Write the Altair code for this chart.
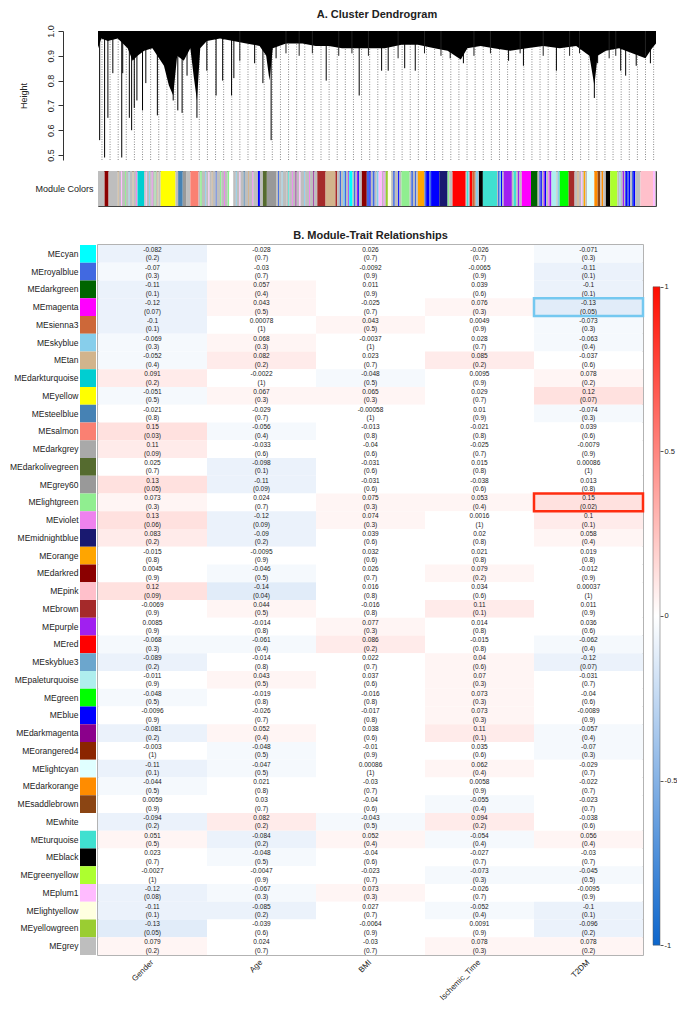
import altair as alt
import pandas as pd
import numpy as np

FONT = "Liberation Sans"

# ---------------- heatmap data ----------------
modules = ["MEcyan", "MEroyalblue", "MEdarkgreen", "MEmagenta", "MEsienna3", "MEskyblue", "MEtan",
           "MEdarkturquoise", "MEyellow", "MEsteelblue", "MEsalmon", "MEdarkgrey", "MEdarkolivegreen",
           "MEgrey60", "MElightgreen", "MEviolet", "MEmidnightblue", "MEorange", "MEdarkred", "MEpink",
           "MEbrown", "MEpurple", "MEred", "MEskyblue3", "MEpaleturquoise", "MEgreen", "MEblue",
           "MEdarkmagenta", "MEorangered4", "MElightcyan", "MEdarkorange", "MEsaddlebrown", "MEwhite",
           "MEturquoise", "MEblack", "MEgreenyellow", "MEplum1", "MElightyellow", "MEyellowgreen", "MEgrey"]
traits = ["Gender", "Age", "BMI", "Ischemic_Time", "T2DM"]

r_gender = [-0.082, -0.07, -0.11, -0.12, -0.1, -0.069, -0.052, 0.091, -0.051, -0.021, 0.15, 0.11, 0.025,
            0.13, 0.073, 0.13, 0.083, -0.015, 0.0045, 0.12, -0.0069, 0.0085, -0.068, -0.089, -0.011, -0.048,
            -0.0096, -0.081, -0.003, -0.11, -0.044, 0.0059, -0.094, 0.051, 0.023, -0.0027, -0.12, -0.11, -0.13, 0.079]
p_gender = [0.2, 0.3, 0.1, 0.07, 0.1, 0.3, 0.4, 0.2, 0.5, 0.8, 0.03, 0.09, 0.7, 0.05, 0.3, 0.06, 0.2, 0.8, 0.9,
            0.09, 0.9, 0.9, 0.3, 0.2, 0.9, 0.5, 0.9, 0.2, 1, 0.1, 0.5, 0.9, 0.2, 0.5, 0.7, 1, 0.08, 0.1, 0.05, 0.2]
r_age = [-0.028, -0.03, 0.057, 0.043, 0.00078, 0.068, 0.082, -0.0022, 0.067, -0.029, -0.056, -0.033, -0.098,
         -0.11, 0.024, -0.12, -0.09, -0.0095, -0.046, -0.14, 0.044, -0.014, -0.061, -0.014, 0.043, -0.019,
         -0.026, 0.052, -0.048, -0.047, 0.021, 0.03, 0.082, -0.084, -0.048, -0.0047, -0.067, -0.085, -0.039, 0.024]
p_age = [0.7, 0.7, 0.4, 0.5, 1, 0.3, 0.2, 1, 0.3, 0.7, 0.4, 0.6, 0.1, 0.09, 0.7, 0.09, 0.2, 0.9, 0.5, 0.04,
         0.5, 0.8, 0.4, 0.8, 0.5, 0.8, 0.7, 0.4, 0.5, 0.5, 0.8, 0.7, 0.2, 0.2, 0.5, 0.9, 0.3, 0.2, 0.6, 0.7]
r_bmi = [0.026, -0.0092, 0.011, -0.025, 0.043, -0.0037, 0.023, -0.048, 0.065, -0.00058, -0.013, -0.04, -0.031,
         -0.031, 0.075, 0.074, 0.039, 0.032, 0.026, 0.016, -0.016, 0.077, 0.086, 0.022, 0.037, -0.016, -0.017,
         0.038, -0.01, 0.00086, -0.03, -0.04, -0.043, 0.052, -0.04, -0.023, 0.073, 0.027, -0.0064, -0.03]
p_bmi = [0.7, 0.9, 0.9, 0.7, 0.5, 1, 0.7, 0.5, 0.3, 1, 0.8, 0.6, 0.6, 0.6, 0.3, 0.3, 0.6, 0.6, 0.7, 0.8, 0.8,
         0.3, 0.2, 0.7, 0.6, 0.8, 0.8, 0.6, 0.9, 1, 0.7, 0.6, 0.5, 0.4, 0.6, 0.7, 0.3, 0.7, 0.9, 0.7]
r_isch = [-0.026, -0.0065, 0.039, 0.076, 0.0049, 0.028, 0.085, 0.0095, 0.029, 0.01, -0.021, -0.025, 0.015,
          -0.038, 0.053, 0.0016, 0.02, 0.021, 0.079, 0.034, 0.11, 0.014, -0.015, 0.04, 0.07, 0.073, 0.073, 0.11,
          0.035, 0.062, 0.0058, -0.055, 0.094, -0.054, -0.027, -0.073, -0.026, -0.052, 0.0091, 0.078]
p_isch = [0.7, 0.9, 0.6, 0.3, 0.9, 0.7, 0.2, 0.9, 0.7, 0.9, 0.8, 0.7, 0.8, 0.6, 0.4, 1, 0.8, 0.8, 0.2, 0.6, 0.1,
          0.8, 0.8, 0.6, 0.3, 0.3, 0.3, 0.1, 0.6, 0.4, 0.9, 0.4, 0.2, 0.4, 0.7, 0.3, 0.7, 0.4, 0.9, 0.3]
r_t2dm = [-0.071, -0.11, -0.1, -0.13, -0.073, -0.063, -0.037, 0.078, 0.12, -0.074, 0.039, -0.0079, 0.00086,
          0.013, 0.15, 0.1, 0.058, 0.019, -0.012, 0.00037, 0.011, 0.036, -0.062, -0.12, -0.031, -0.04, -0.0089,
          -0.057, -0.07, -0.029, -0.022, -0.023, -0.038, 0.056, -0.03, -0.045, -0.0095, -0.1, -0.096, 0.078]
p_t2dm = [0.3, 0.1, 0.1, 0.05, 0.3, 0.4, 0.6, 0.2, 0.07, 0.3, 0.6, 0.9, 1, 0.8, 0.02, 0.1, 0.4, 0.8, 0.9, 1,
          0.9, 0.6, 0.4, 0.07, 0.7, 0.6, 0.9, 0.4, 0.3, 0.7, 0.7, 0.7, 0.6, 0.4, 0.7, 0.5, 0.9, 0.1, 0.2, 0.2]

highlight_modules = ["MEmagenta", "MElightgreen"]
highlight_traits = ["T2DM", "T2DM"]
highlight_colors = ["#74c8f0", "#ff2d10"]

# ---------------- dendrogram data (leaf-order units) ----------------
canopy_pos = [0, 10, 30, 60, 90, 105, 120, 140, 165, 180, 200, 215, 228, 240, 260, 280, 290, 300, 310, 330,
              370, 410, 450, 490, 510, 520, 530, 570, 620, 660, 700, 740, 780, 820, 870, 920, 970, 1020, 1060,
              1100, 1120, 1160, 1200, 1250, 1300, 1350, 1400, 1450, 1490, 1505, 1515, 1540, 1580, 1620, 1660,
              1680, 1692]
canopy_low = [0.93, 0.97, 0.96, 0.97, 0.93, 0.88, 0.9, 0.92, 0.93, 0.9, 0.86, 0.78, 0.74, 0.9, 0.88, 0.93, 0.82,
              0.72, 0.93, 0.96, 0.97, 0.96, 0.95, 0.94, 0.9, 0.8, 0.93, 0.95, 0.95, 0.94, 0.94, 0.93, 0.93, 0.93,
              0.93, 0.945, 0.945, 0.93, 0.92, 0.885, 0.93, 0.94, 0.93, 0.92, 0.93, 0.94, 0.93, 0.94, 0.9, 0.78,
              0.9, 0.92, 0.93, 0.91, 0.89, 0.93, 0.95]
drop_pos = [5, 20, 30, 45, 72, 75, 95, 102, 110, 118, 135, 145, 180, 195, 228, 242, 255, 270, 300, 330, 358,
            378, 405, 412, 475, 500, 525, 540, 692, 792, 860, 880, 930, 962, 1068, 1108, 1245, 1290, 1390, 1505,
            1515, 1585, 1600, 1632, 1675]
drop_low = [0.56, 0.49, 0.65, 0.83, 0.49, 0.83, 0.65, 0.60, 0.69, 0.72, 0.68, 0.79, 0.66, 0.88, 0.72, 0.68, 0.67,
            0.82, 0.65, 0.84, 0.74, 0.80, 0.74, 0.81, 0.87, 0.79, 0.56, 0.89, 0.80, 0.74, 0.84, 0.84, 0.85, 0.84,
            0.89, 0.87, 0.88, 0.86, 0.84, 0.73, 0.87, 0.84, 0.82, 0.86, 0.87]
minor_pos = [430, 570, 610, 650, 730, 770, 820, 910, 990, 1040, 1140, 1190, 1280, 1350, 1430, 1460, 1550, 1570, 1660]
minor_low = [0.88, 0.91, 0.90, 0.91, 0.90, 0.91, 0.90, 0.89, 0.91, 0.90, 0.90, 0.91, 0.91, 0.90, 0.90, 0.91, 0.89,
             0.90, 0.90]

# ---------------- module colour bar (leaf-order units) ----------------
bar_colors = [
    "grey", "darkred", "grey", "tan", "grey", "plum1", "grey", "lightgreen", "grey", "skyblue", "grey", "tan", "grey",
    "violet", "grey", "darkturquoise", "grey", "plum1", "grey", "skyblue", "grey", "violet", "grey", "lightgreen",
    "grey", "tan", "grey", "yellow", "grey", "steelblue", "grey60", "grey", "salmon", "grey", "lightgreen", "grey",
    "skyblue", "grey", "plum1", "grey", "tan", "grey", "royalblue", "grey", "lightgreen", "grey", "violet", "grey",
    "lightgreen", "white", "grey", "skyblue", "grey", "plum1", "grey", "steelblue", "grey", "tan", "grey", "violet",
    "grey", "blue", "grey", "darkolivegreen", "grey60", "grey", "royalblue", "grey", "skyblue", "grey",
    "grey", "turquoise", "grey", "violet", "grey", "darkmagenta", "grey", "plum1", "grey", "skyblue", "grey", "violet",
    "grey", "darkmagenta", "grey", "brown", "tan", "brown", "grey", "royalblue", "grey", "skyblue", "royalblue", "grey",
    "purple", "cyan", "grey", "royalblue", "grey", "purple", "blue", "grey", "darkred", "royalblue", "blue", "grey",
    "royalblue", "grey", "skyblue", "plum1", "grey", "violet", "grey", "yellowgreen", "lightyellow", "grey",
    "royalblue", "grey", "blue", "grey", "lightgreen", "grey", "royalblue", "grey", "royalblue", "grey", "orange",
    "royalblue", "blue", "royalblue", "blue", "midnightblue", "lightgreen", "grey", "red", "grey", "turquoise",
    "skyblue", "red", "sienna3",
    "sienna3", "skyblue", "grey", "black", "turquoise", "grey", "royalblue", "skyblue", "blue", "grey", "purple",
    "grey", "turquoise", "grey", "purple", "grey", "magenta", "darkgreen", "grey", "royalblue", "blue", "grey",
    "purple", "blue", "grey", "violet", "purple", "paleturquoise", "grey", "skyblue", "green", "brown", "grey", "tan",
    "grey", "plum1", "grey", "orange", "grey", "lightcyan", "darkorange", "saddlebrown", "grey", "darkorange", "grey",
    "black", "greenyellow", "grey", "skyblue", "grey", "purple", "grey", "blue", "royalblue", "blue", "grey",
    "royalblue", "blue", "grey", "pink", "plum1", "grey"]
bar_widths = [
    20, 12, 28, 3, 7, 3, 9, 3, 8, 3, 9, 3, 7,
    3, 2, 20, 5, 3, 7, 3, 5, 3, 6, 3,
    5, 3, 7, 45, 8, 14, 10, 13, 25, 5, 5, 10,
    3, 7, 3, 7, 3, 9, 3, 10, 4, 8, 3, 8,
    5, 12, 8, 3, 8, 3, 10, 3, 10, 3, 10, 3,
    14, 6, 9, 12, 28, 6, 3, 8, 3, 11,
    6, 3, 8, 3, 8, 3, 8, 4, 11, 3, 12, 3,
    10, 3, 9, 25, 30, 5, 8, 4, 6, 5, 4, 7,
    3, 10, 4, 5, 4, 4, 3, 8, 15, 8, 4, 6,
    6, 6, 6, 10, 4, 4, 4, 6, 10, 6,
    5, 10, 4, 6, 25, 5, 5, 6, 4, 5, 20,
    5, 10, 5, 25, 25, 5, 10, 40, 3, 5,
    4, 8, 6,
    4, 8, 2, 12, 43, 3, 5, 4, 4, 4, 25,
    5, 8, 5, 5, 7, 28, 20, 5, 4, 4, 5,
    4, 4, 6, 4, 6, 15, 4, 6, 27, 18, 8, 5,
    7, 4, 4, 5, 5, 22, 10, 8, 4, 5, 8,
    13, 22, 6, 4, 6, 4, 4, 5, 5, 5, 5,
    4, 6, 16, 38, 6, 3]

# ---------------- styles ----------------
R_COLORS = {
    "grey": "#BEBEBE", "darkred": "#8B0000", "tan": "#D2B48C", "plum1": "#FFBBFF", "lightgreen": "#90EE90",
    "darkturquoise": "#00CED1", "yellow": "#FFFF00", "steelblue": "#4682B4", "salmon": "#FA8072", "white": "#FFFFFF",
    "blue": "#0000FF", "darkolivegreen": "#556B2F", "grey60": "#999999", "brown": "#A52A2A", "cyan": "#00FFFF",
    "royalblue": "#4169E1", "purple": "#A020F0", "skyblue": "#87CEEB", "violet": "#EE82EE",
    "yellowgreen": "#9ACD32", "lightyellow": "#FFFFE0", "orange": "#FFA500", "midnightblue": "#191970",
    "red": "#FF0000", "turquoise": "#40E0D0", "sienna3": "#CD6839", "black": "#000000", "magenta": "#FF00FF",
    "darkgreen": "#006400", "paleturquoise": "#AFEEEE", "green": "#00FF00", "darkorange": "#FF8C00",
    "lightcyan": "#E0FFFF", "saddlebrown": "#8B4513", "greenyellow": "#ADFF2F", "pink": "#FFC0CB",
    "darkgrey": "#A9A9A9", "orangered4": "#8B2500", "darkmagenta": "#8B008B", "skyblue3": "#6CA6CD",
}


def blue_white_red(n=50):
    half = n // 2
    f1 = [i / (half - 1) for i in range(half)]
    blue, red = (0.05, 0.4, 0.8), (1.0, 0.05, 0.0)
    out = []
    for f in f1:
        out.append("#%02x%02x%02x" % tuple(int(round(255 * (b + (1 - b) * f))) for b in blue))
    for f in f1[::-1]:
        out.append("#%02x%02x%02x" % tuple(int(round(255 * (c + (1 - c) * f))) for c in red))
    return out


PAL = blue_white_red(50)
TXT = "#222222"

# ---------------- frames ----------------
r_cols = [r_gender, r_age, r_bmi, r_isch, r_t2dm]
p_cols = [p_gender, p_age, p_bmi, p_isch, p_t2dm]
rows = []
for t, rl, pl in zip(traits, r_cols, p_cols):
    for m, r, p in zip(modules, rl, pl):
        rows.append({"module": m, "trait": t, "r": r, "rlab": f"{r:g}", "plab": f"({p:g})"})
hm = pd.DataFrame(rows)
hl = pd.DataFrame({"module": highlight_modules, "trait": highlight_traits, "col": highlight_colors})
sw = pd.DataFrame({"module": modules, "hex": [R_COLORS[m[2:]] for m in modules], "s0": 0, "s1": 1})

cb = pd.DataFrame({"name": bar_colors, "w": bar_widths})
cb["end"] = cb["w"].cumsum()
cb["start"] = cb["end"] - cb["w"]
cb["hex"] = cb["name"].map(R_COLORS)
cb["lab"] = "Module Colors"
TOTAL = int(cb["end"].iloc[-1])

canopy = pd.DataFrame({"pos": canopy_pos, "low": canopy_low})
drops = pd.DataFrame({"pos": drop_pos, "low": drop_low})
minors = pd.DataFrame({"pos": minor_pos, "low": minor_low})
guides = pd.DataFrame({"pos": [float(v) for v in np.arange(12, TOTAL, 24.6)]})

# ---------------- A: dendrogram ----------------
DW = 558
xs = alt.Scale(domain=[0, TOTAL], nice=False, zero=False)
ys = alt.Scale(domain=[0.48, 1.0], nice=False, zero=False)
x_axis = alt.Axis(labels=False, ticks=False, domain=False, grid=False, title=None)
y_axis = alt.Axis(values=[0.5, 0.6, 0.7, 0.8, 0.9, 1.0], format=".1f", labelAngle=270, labelAlign="center",
                  labelBaseline="bottom", labelOverlap=False, tickSize=5, offset=35, title="Height",
                  titleFontSize=9, titleFontWeight="normal", titlePadding=18, grid=False, domainColor="#333",
                  tickColor="#333", labelFontSize=9, labelPadding=3, labelColor=TXT, titleColor=TXT)
XD = alt.X("pos:Q", scale=xs, axis=x_axis)
YD = alt.Y("low:Q", scale=ys, axis=y_axis)

guide_lines = alt.Chart(guides).mark_rule(color="#8a8a8a", strokeWidth=1, strokeDash=[1, 1.5]).encode(
    x=XD, y=alt.datum(0.48, scale=ys, axis=y_axis), y2=alt.datum(1.0))
area = alt.Chart(canopy).mark_area(color="black").encode(x=XD, y=YD, y2=alt.datum(1.0))
deep = alt.Chart(drops).mark_rule(color="black", strokeWidth=1).encode(x=XD, y=YD, y2=alt.datum(1.0))
shallow = alt.Chart(minors).mark_rule(color="#222", strokeWidth=1).encode(x=XD, y=YD, y2=alt.datum(1.0))

dendro = alt.layer(guide_lines, area, deep, shallow).properties(
    width=DW, height=129,
    title=alt.TitleParams("A. Cluster Dendrogram", fontSize=11, fontWeight="bold", anchor="middle", offset=5,
                          color=TXT),
    view=alt.ViewBackground(stroke=None))

colorbar = alt.Chart(cb).mark_rect().encode(
    x=alt.X("start:Q", scale=xs, axis=None), x2="end:Q",
    y=alt.Y("lab:N", axis=alt.Axis(title=None, ticks=False, domain=False, labelFontSize=9, labelColor=TXT,
                                   labelPadding=5)),
    color=alt.Color("hex:N", scale=None)
).properties(width=DW, height=35, view=alt.ViewBackground(stroke="#444", strokeWidth=1))

# ---------------- B: heatmap ----------------
HW, HH = 545, 710
band = alt.Scale(paddingInner=0, paddingOuter=0)
x_ax = alt.X("trait:N", sort=traits, scale=band,
             axis=alt.Axis(title=None, labelAngle=-45, labelAlign="right", labelBaseline="middle", ticks=False,
                           domain=False, labelFontSize=8, labelPadding=6, labelColor=TXT))
y_ax = alt.Y("module:N", sort=modules, scale=band,
             axis=alt.Axis(title=None, ticks=False, domain=False, labelFontSize=8.5, labelPadding=20,
                           labelColor=TXT))

cells = alt.Chart(hm).mark_rect().encode(
    x=x_ax, y=y_ax,
    color=alt.Color("r:Q", scale=alt.Scale(type="quantize", domain=[-1, 1], range=PAL), legend=None))
t1 = alt.Chart(hm).mark_text(dy=-4, fontSize=6.5, color=TXT).encode(x=x_ax, y=y_ax, text="rlab:N")
t2 = alt.Chart(hm).mark_text(dy=4.5, fontSize=6.5, color=TXT).encode(x=x_ax, y=y_ax, text="plab:N")
hbox = alt.Chart(hl).mark_rect(fillOpacity=0, strokeWidth=2.5).encode(
    x=x_ax, y=y_ax, stroke=alt.Stroke("col:N", scale=None))
inner = alt.layer(cells, t1, t2, hbox)

# swatch column sits just left of the cells: its own x scale maps [0, 1] to 16 px ending 2 px before the cells
sw_scale = alt.Scale(domain=[18 / 16, 18 / 16 + HW / 16], nice=False, zero=False)
swatches = alt.Chart(sw).mark_rect().encode(
    x=alt.X("s0:Q", scale=sw_scale, axis=None), x2="s1:Q", y=y_ax,
    color=alt.Color("hex:N", scale=None))

heat = alt.layer(inner, swatches).resolve_scale(x="independent", color="independent").properties(
    width=HW, height=HH,
    title=alt.TitleParams("B. Module-Trait Relationships", fontSize=11, fontWeight="bold", anchor="middle",
                          offset=4, color=TXT),
    view=alt.ViewBackground(stroke="#9a9a9a", strokeWidth=1.5))

leg = pd.DataFrame({"lo": [-1], "hi": [1]})
grad = alt.Gradient(gradient="linear", x1=0, x2=0, y1=1, y2=0,
                    stops=[alt.GradientStop(color=PAL[0], offset=0),
                           alt.GradientStop(color="#ffffff", offset=0.5),
                           alt.GradientStop(color=PAL[-1], offset=1)])
legend = alt.Chart(leg).mark_rect(color=grad, stroke="#555", strokeWidth=0.5).encode(
    x=alt.value(0), x2=alt.value(7),
    y=alt.Y("lo:Q", scale=alt.Scale(domain=[-1.03, 1.127], nice=False, zero=False),
            axis=alt.Axis(orient="right", values=[-1, -0.5, 0, 0.5, 1], labelExpr="datum.value", tickSize=3,
                          domain=False, grid=False, title=None, labelFontSize=7.5, labelColor=TXT,
                          tickColor="#555", labelPadding=1)),
    y2="hi:Q"
).properties(width=7, height=HH, view=alt.ViewBackground(stroke=None))

heat_row = alt.hconcat(heat, legend, spacing=7)

top = alt.vconcat(dendro, colorbar, spacing=8)
chart = alt.vconcat(top, heat_row, spacing=22).properties(
    padding=0
).configure(font=FONT, background="white").configure_view(stroke=None)

chart.save("out.html", embed_options={"renderer": "svg", "actions": False})
